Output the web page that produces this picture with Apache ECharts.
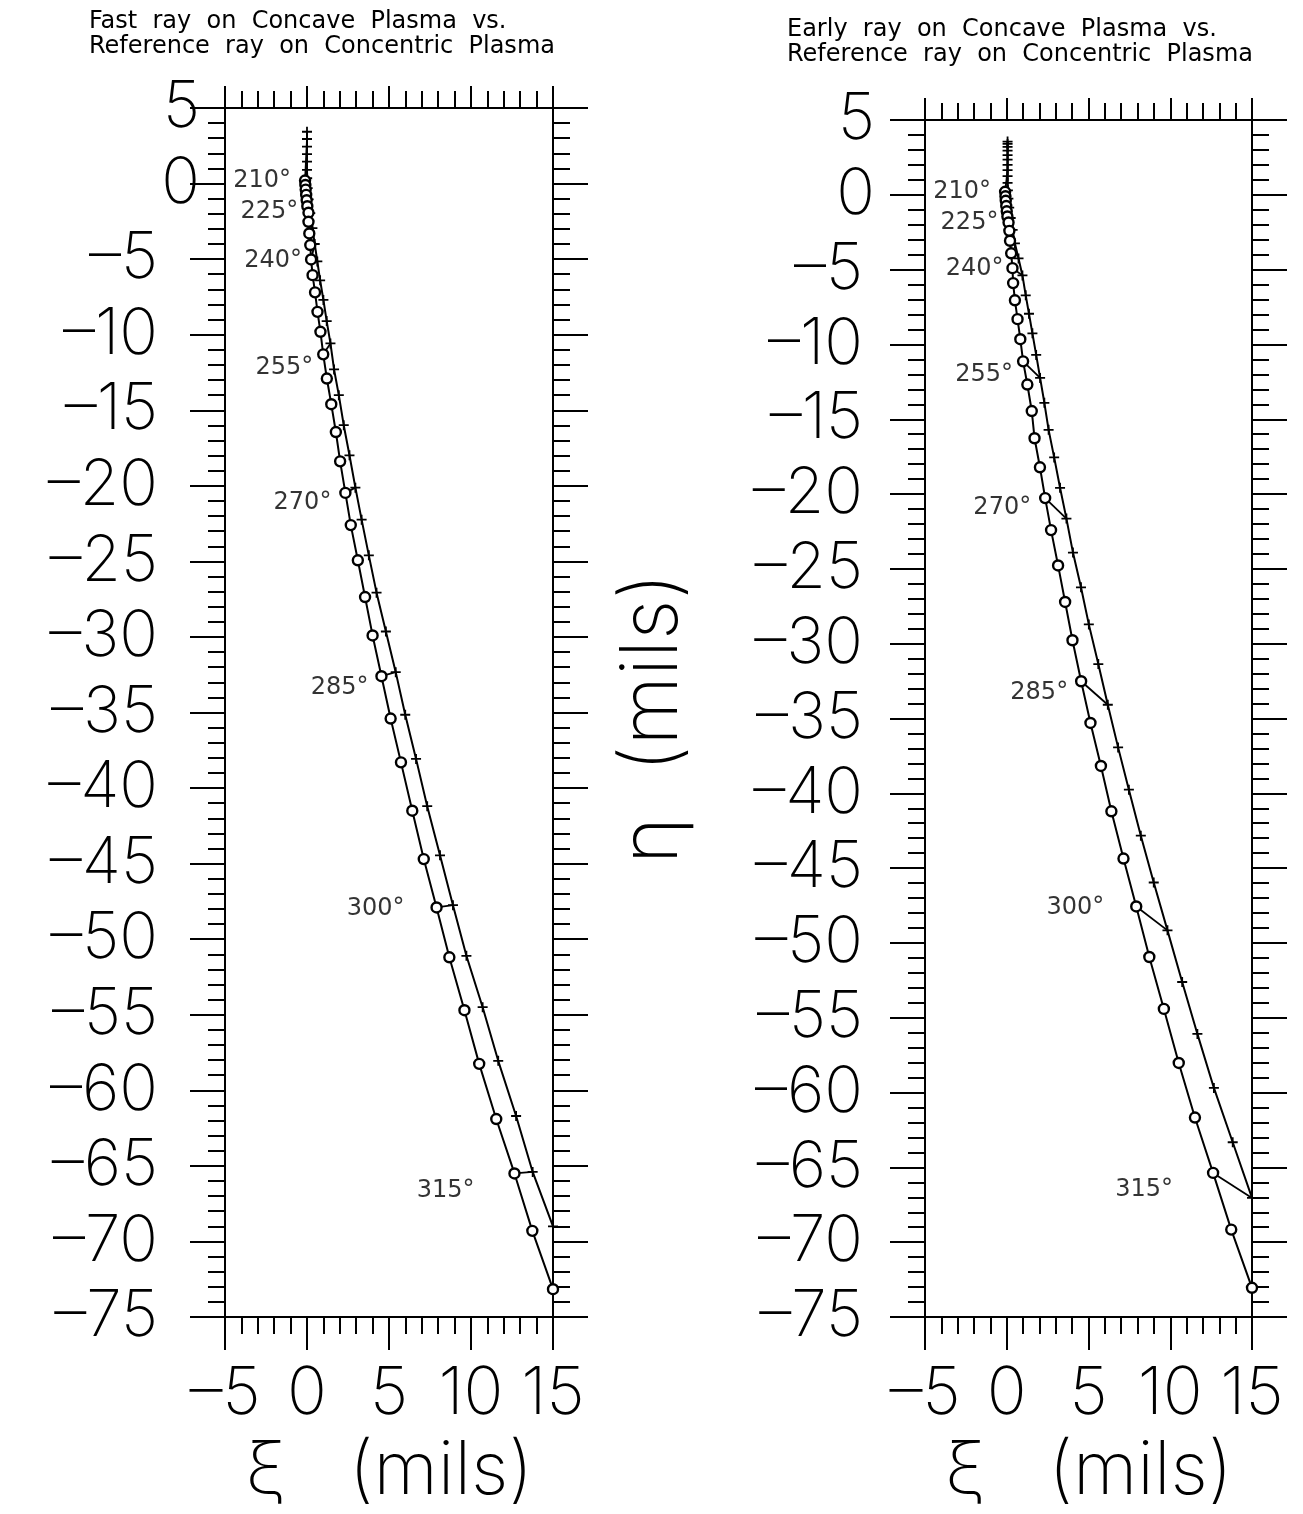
<!DOCTYPE html>
<html>
<head>
<meta charset="utf-8">
<script src="https://cdn.jsdelivr.net/npm/echarts@6/dist/echarts.min.js"></script>
<style>
  html, body { margin: 0; padding: 0; background: #fff; }
  #chart { width: 1303px; height: 1514px; }
</style>
</head>
<body>
<div id="chart"></div>
<script>
// ray positions, one point every 3 degrees from the start angle
const ANGLE_STEP = 3;
const labelAngles = [210, 225, 240, 255, 270, 285, 300, 315];

// left panel: fast ray on concave plasma (circles)
const fastStart = 210;
const fastX = [-0.12, -0.1, -0.08, -0.05, -0.02, 0.02, 0.09, 0.09, 0.14, 0.2, 0.25, 0.34, 0.49, 0.64, 0.82, 0.99, 1.21, 1.48, 1.76, 2.02, 2.34, 2.67, 3.1, 3.54, 4.0, 4.54, 5.1, 5.73, 6.42, 7.12, 7.9, 8.68, 9.6, 10.5, 11.54, 12.65, 13.74, 15.0];
const fastY = [0.2, -0.1, -0.4, -0.75, -1.1, -1.5, -1.93, -2.53, -3.3, -4.07, -5.02, -6.06, -7.2, -8.49, -9.81, -11.3, -12.9, -14.6, -16.44, -18.38, -20.47, -22.6, -24.93, -27.36, -29.9, -32.6, -35.4, -38.3, -41.5, -44.7, -47.9, -51.2, -54.7, -58.25, -61.9, -65.5, -69.3, -73.16];

// left panel: reference ray on concentric plasma (plus marks)
const refLeftStart = 207;
const refLeftX = [0, 0, 0, 0, 0, 0, 0.01, 0.04, 0.1, 0.2, 0.33, 0.47, 0.63, 0.8, 1.0, 1.2, 1.43, 1.65, 1.94, 2.24, 2.59, 2.95, 3.33, 3.77, 4.24, 4.81, 5.41, 5.99, 6.65, 7.33, 8.11, 8.9, 9.72, 10.71, 11.66, 12.75, 13.76, 15.0];
const refLeftY = [3.43, 2.95, 2.45, 1.95, 1.45, 0.9, 0.35, -0.3, -1.05, -1.95, -2.95, -4.0, -5.15, -6.4, -7.7, -9.1, -10.58, -12.3, -14.0, -15.99, -17.98, -20.12, -22.24, -24.6, -27.07, -29.64, -32.33, -35.15, -38.07, -41.2, -44.45, -47.75, -51.1, -54.5, -58.05, -61.7, -65.4, -69.0];

// right panel: early ray on concave plasma (circles)
const earlyStart = 210;
const earlyX = [-0.1, -0.08, -0.06, -0.03, 0.0, 0.04, 0.11, 0.16, 0.2, 0.27, 0.35, 0.39, 0.5, 0.66, 0.83, 1.0, 1.26, 1.53, 1.7, 2.03, 2.35, 2.71, 3.14, 3.57, 4.02, 4.55, 5.12, 5.76, 6.4, 7.14, 7.92, 8.72, 9.61, 10.52, 11.51, 12.62, 13.73, 15.0];
const earlyY = [0.2, -0.1, -0.4, -0.75, -1.1, -1.45, -1.85, -2.41, -3.07, -3.91, -4.9, -5.9, -7.05, -8.31, -9.65, -11.13, -12.68, -14.45, -16.27, -18.21, -20.27, -22.41, -24.77, -27.21, -29.77, -32.51, -35.3, -38.17, -41.2, -44.36, -47.56, -50.94, -54.41, -58.02, -61.67, -65.37, -69.16, -73.05];

// right panel: reference ray on concentric plasma (plus marks)
const refRightStart = 189;
const refRightX = [0.05, 0.05, 0.05, 0.05, 0.05, 0.05, 0.05, 0.05, 0.05, 0.05, 0.07, 0.1, 0.15, 0.24, 0.36, 0.5, 0.72, 0.96, 1.16, 1.36, 1.57, 1.8, 2.04, 2.3, 2.56, 2.9, 3.26, 3.65, 4.05, 4.54, 5.02, 5.6, 6.18, 6.81, 7.47, 8.2, 8.99, 9.83, 10.73, 11.66, 12.67, 13.82, 15.0];
const refRightY = [3.56, 3.4, 3.2, 2.95, 2.65, 2.35, 2.0, 1.65, 1.25, 0.8, 0.3, -0.25, -0.85, -1.55, -2.35, -3.25, -4.25, -5.39, -6.72, -7.95, -9.26, -10.7, -12.24, -13.9, -15.71, -17.55, -19.58, -21.64, -23.91, -26.23, -28.71, -31.36, -34.08, -36.93, -39.76, -42.83, -45.96, -49.16, -52.61, -56.08, -59.69, -63.32, -67.04];

// axes
const xMin = -5, xMax = 15, xStep = 5;
const yMin = -75, yMax = 5, yStep = 5;

const titles = [
  'Fast  ray  on  Concave  Plasma  vs.\nReference  ray  on  Concentric  Plasma',
  'Early  ray  on  Concave  Plasma  vs.\nReference  ray  on  Concentric  Plasma'
];

// label placement next to each marked circle (gap, drop)
const labelGap = [14, 9, 9, 10, 14, 13, 32, 40];
const labelDrop = [0, 6, 1, 13, 10, 12, 1, 17];

const BIG_FONT = 'Inter, "DejaVu Sans", sans-serif';
const minus = v => v < 0 ? '\u2013' + (-v) : String(v);

const panels = [
  { circleStart: fastStart, cx: fastX, cy: fastY, plusStart: refLeftStart, px: refLeftX, py: refLeftY,
    grid: { left: 225, top: 108, width: 328, height: 1209 }, yMargin: 25, negPad: 42, yName: '' },
  { circleStart: earlyStart, cx: earlyX, cy: earlyY, plusStart: refRightStart, px: refRightX, py: refRightY,
    grid: { left: 925, top: 120, width: 327, height: 1207 }, yMargin: 50, negPad: 12, yName: 'η  (mils)' }
];

function xAxes(g) {
  const base = {
    gridIndex: g, type: 'value', min: xMin, max: xMax, interval: xStep,
    axisLine: { onZero: false, lineStyle: { color: '#000', width: 2 } },
    axisTick: { show: true, length: 33, lineStyle: { color: '#000', width: 2 } },
    minorTick: { show: true, splitNumber: 5, length: 17, lineStyle: { color: '#000', width: 2 } },
    splitLine: { show: false }
  };
  return [
    Object.assign({}, base, {
      position: 'bottom',
      axisLabel: { margin: 44, fontSize: 66, fontFamily: BIG_FONT, fontWeight: 200, color: '#000', formatter: minus },
      name: 'ξ   (mils)', nameLocation: 'middle', nameGap: 118,
      nameTextStyle: { fontSize: 74, fontFamily: BIG_FONT, fontWeight: 200, color: '#000' }
    }),
    Object.assign({}, base, { position: 'top', axisLabel: { show: false },
      axisTick: { show: true, length: 22, lineStyle: { color: '#000', width: 2 } } })
  ];
}

function yAxes(g, p) {
  const base = {
    gridIndex: g, type: 'value', min: yMin, max: yMax, interval: yStep,
    axisLine: { onZero: false, lineStyle: { color: '#000', width: 2 } },
    axisTick: { show: true, length: 35, lineStyle: { color: '#000', width: 2 } },
    minorTick: { show: true, splitNumber: 5, length: 17, lineStyle: { color: '#000', width: 2 } },
    splitLine: { show: false }
  };
  const font = { fontSize: 64, fontFamily: BIG_FONT, fontWeight: 200, color: '#000' };
  return [
    Object.assign({}, base, {
      position: 'left',
      axisLabel: Object.assign({ margin: p.yMargin,
        formatter: v => v < 0 ? '{n|' + minus(v) + '}' : '{p|' + v + '}',
        rich: { n: Object.assign({ padding: [0, p.negPad, 0, 0] }, font), p: Object.assign({}, font) }
      }, font),
      name: p.yName, nameLocation: 'middle', nameGap: 232, nameRotate: 90,
      nameTextStyle: { fontSize: 80, fontFamily: BIG_FONT, fontWeight: 200, color: '#000' }
    }),
    Object.assign({}, base, { position: 'right', axisLabel: { show: false } })
  ];
}

const titleStyle = { fontSize: 24, fontWeight: 'normal', fontFamily: 'DejaVu Sans', color: '#000', lineHeight: 25 };

const option = {
  backgroundColor: '#fff',
  animation: false,
  title: [
    { text: titles[0], left: 84, top: 4, textStyle: titleStyle },
    { text: titles[1], left: 782, top: 12, textStyle: titleStyle }
  ],
  grid: panels.map(p => p.grid),
  xAxis: [].concat(xAxes(0), xAxes(1)),
  yAxis: [].concat(yAxes(0, panels[0]), yAxes(1, panels[1])),
  series: []
};

panels.forEach((p, g) => {
  const xi = g * 2, yi = g * 2;
  const circles = p.cx.map((x, i) => [x, p.cy[i]]);
  const pluses = p.px.map((x, i) => [x, p.py[i]]);

  option.series.push({
    type: 'line', xAxisIndex: xi, yAxisIndex: yi, data: pluses, z: 3,
    symbol: 'path://M5,0L5,10M0,5L10,5', symbolSize: 10,
    itemStyle: { color: 'none', borderColor: '#000', borderWidth: 1.8 },
    lineStyle: { color: '#000', width: 2 }
  });
  option.series.push({
    type: 'line', xAxisIndex: xi, yAxisIndex: yi, data: circles, z: 4,
    symbol: 'circle', symbolSize: 10,
    itemStyle: { color: '#fff', borderColor: '#000', borderWidth: 2.4 },
    lineStyle: { color: '#000', width: 2 }
  });

  // short segments joining the two rays at the marked angles
  labelAngles.forEach(a => {
    const ci = (a - p.circleStart) / ANGLE_STEP;
    const pi = (a - p.plusStart) / ANGLE_STEP;
    option.series.push({
      type: 'line', xAxisIndex: xi, yAxisIndex: yi, z: 2, symbol: 'none', silent: true,
      data: [circles[ci], pluses[pi]],
      lineStyle: { color: '#000', width: 1.8 }
    });
  });

  // angle labels
  option.series.push({
    type: 'scatter', xAxisIndex: xi, yAxisIndex: yi, symbolSize: 0, z: 5,
    data: labelAngles.map((a, k) => ({
      value: circles[(a - p.circleStart) / ANGLE_STEP],
      label: { distance: labelGap[k], offset: [0, labelDrop[k]] }
    })),
    label: {
      show: true, position: 'left', color: '#000', fontSize: 24, fontFamily: 'DejaVu Sans',
      formatter: prm => labelAngles[prm.dataIndex] + '°'
    }
  });
});

const chart = echarts.init(document.getElementById('chart'));
chart.setOption(option);
</script>
</body>
</html>
